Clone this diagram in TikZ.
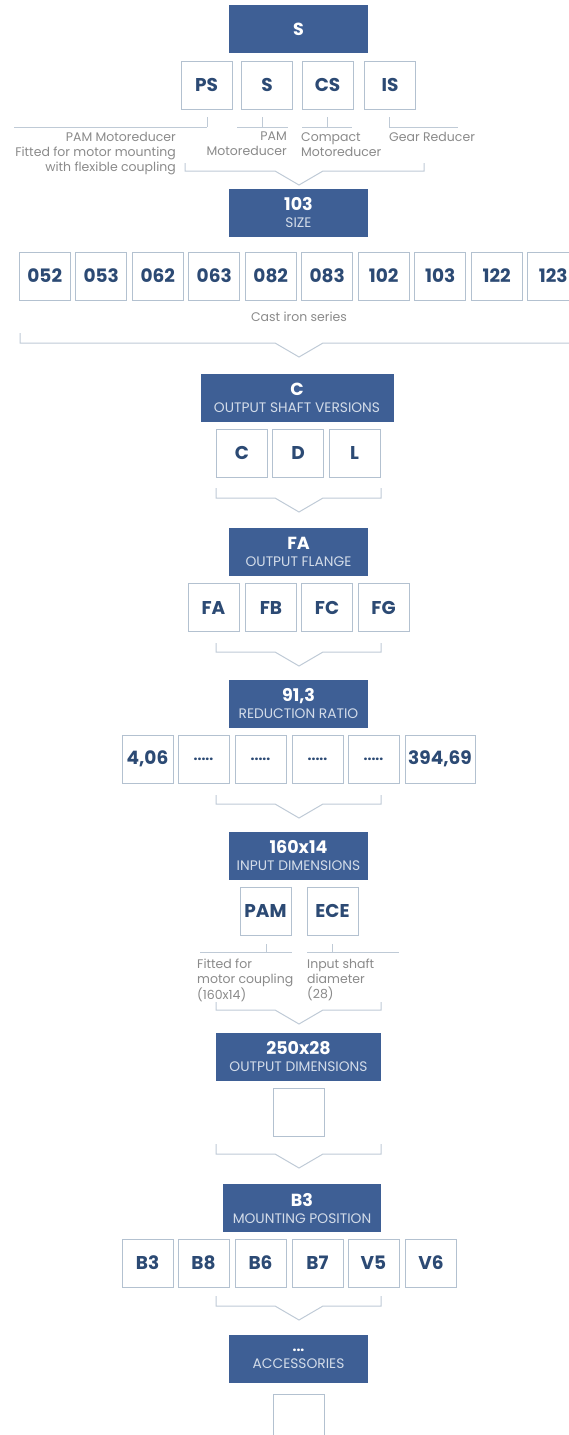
\documentclass[tikz,border=0pt]{standalone}
\usepackage{fontspec}
\setmainfont{Poppins}
\usetikzlibrary{positioning}

\definecolor{boxblue}{HTML}{3E5F95}
\definecolor{navy}{HTML}{2C4A74}
\definecolor{framegray}{HTML}{B3C1D0}
\definecolor{wiregray}{HTML}{BFCAD6}
\definecolor{notegray}{HTML}{8A8A8A}
\definecolor{subtext}{HTML}{D3DCE9}

\newcommand{\subline}[1]{{\mdseries\fontsize{13.8}{13.8}\selectfont\color{subtext}#1}}

\begin{document}
\begin{tikzpicture}[x=1pt, y=-1pt
    , head/.style={fill=boxblue, text=white, minimum width=139pt, minimum height=48pt,
        inner sep=0pt, align=center, font=\bfseries\fontsize{17.5}{17}\selectfont}
    , choice/.style={draw=framegray, fill=white, line width=0.9pt, minimum width=51pt,
        minimum height=48pt, inner sep=0pt, text=navy, font=\bfseries\fontsize{18.5}{18.5}\selectfont}
    , wire/.style={draw=wiregray, line width=1pt}
    , remark/.style={text=notegray, inner sep=0pt, font=\fontsize{12.5}{15}\selectfont}
    ]
    \useasboundingbox (0,0) rectangle (569,1435);

    % type
    \node[head] (type) at (298.5,29) {S};
    \foreach \lab/\x [count=\i] in {PS/206.5, S/267, CS/327.5, IS/390}
      \node[choice] (type-\i) at (\x,85) {\lab};
    \foreach \a/\t/\b in {14/207/207, 237/262/288, 302/327/352, 389/389/458}
      \draw[wire] (\a,127) -- (\b,127) (\t,127) -- (\t,117);
    \node[remark, anchor=north east, align=right] (note-ps) at (176,132)
      {PAM Motoreducer\\Fitted for motor mounting\\with flexible coupling};
    \node[remark, anchor=north east, align=right] (note-s) at (287,132) {PAM\\Motoreducer};
    \node[remark, anchor=north west, align=left] (note-cs) at (301,132) {Compact\\Motoreducer};
    \node[remark, anchor=north west] (note-is) at (389,132) {Gear Reducer};

    % size
    \node[head] (size) at (298.5,213) {103\\\subline{SIZE}};
    \foreach \lab [count=\i] in {052,053,062,063,082,083,102,103,122,123}
      \node[choice] (size-\i) at ({44.75+56.5*(\i-1)},276) {\lab};
    \node[remark] (cast) at (299,317) {Cast iron series};

    % shaft
    \node[head, minimum width=193pt] (shaft) at (297,397.5) {C\\\subline{OUTPUT SHAFT VERSIONS}};
    \foreach \lab/\x [count=\i] in {C/242, D/298, L/354.5}
      \node[choice] (shaft-\i) at (\x,453) {\lab};

    % flange
    \node[head] (flange) at (298.5,552) {FA\\\subline{OUTPUT FLANGE}};
    \foreach \lab/\x [count=\i] in {FA/213.5, FB/271, FC/327, FG/383.5}
      \node[choice] (flange-\i) at (\x,607.5) {\lab};

    % ratio
    \node[head] (ratio) at (298.5,704) {91,3\\\subline{REDUCTION RATIO}};
    \node[choice] (ratio-1) at (147.5,759) {4,06};
    \foreach \x [count=\i from 2] in {203.5, 260.5, 317.5, 373.5}
      \node[choice, font=\bfseries\fontsize{14}{14}\selectfont] (ratio-\i) at (\x,759) {.....};
    \node[choice, minimum width=70pt] (ratio-6) at (440,759) {394,69};

    % input
    \node[head] (input) at (298.5,856) {160x14\\\subline{INPUT DIMENSIONS}};
    \node[choice] (input-1) at (265.5,911) {PAM};
    \node[choice] (input-2) at (332.5,911) {ECE};
    \foreach \a/\t/\b in {200/266/292, 307/332/399}
      \draw[wire] (\a,952) -- (\b,952) (\t,952) -- (\t,944);
    \node[remark, anchor=north west, align=left] (note-pam) at (197,959)
      {Fitted for\\motor coupling\\(160x14)};
    \node[remark, anchor=north west, align=left] (note-ece) at (307,959)
      {Input shaft\\diameter\\(28)};

    % output
    \node[head, minimum width=165pt] (output) at (298.5,1057) {250x28\\\subline{OUTPUT DIMENSIONS}};
    \node[choice] (output-1) at (299,1112) {};

    % mounting
    \node[head, minimum width=158pt] (mount) at (302,1208) {B3\\\subline{MOUNTING POSITION}};
    \foreach \lab/\x [count=\i] in {B3/147.5, B8/203.5, B6/260.5, B7/317.5, V5/373.5, V6/431}
      \node[choice] (mount-\i) at (\x,1263) {\lab};

    % accessories
    \node[head] (extra) at (298.5,1359) {{\fontsize{14}{14}\selectfont...}\\\subline{ACCESSORIES}};
    \node[choice] (extra-1) at (298.5,1418) {};

    % brackets
    \foreach \l/\r/\t/\y in {185/424/163/185, 20/575/333/357, 216/381/488/512,
        216/381/643/666, 216/381/795/818, 216/381/1002/1024, 216/381/1144/1168,
        216/381/1296/1320}
      \draw[wire] (\l,\t) |- (275,\y-14) -- (299,\y) -- (323,\y-14) -| (\r,\t);
  \end{tikzpicture}
\end{document}
